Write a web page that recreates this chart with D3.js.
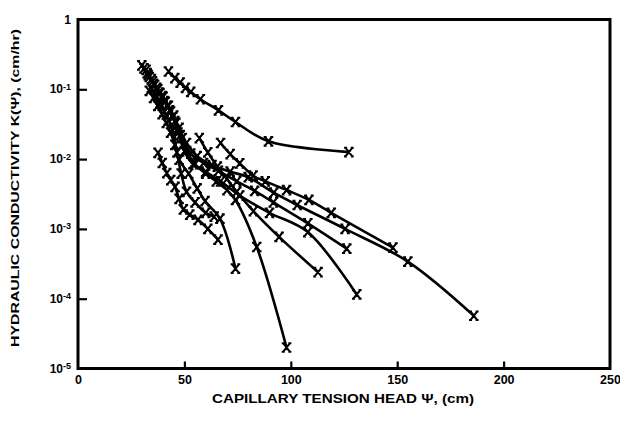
<!DOCTYPE html>
<html>
<head>
<meta charset="utf-8">
<script src="https://cdn.jsdelivr.net/npm/d3@7"></script>
<style>
  body { margin: 0; background: #fff; }
  text { font-family: "Liberation Sans", Arial, sans-serif; font-weight: bold; fill: #000; }
</style>
</head>
<body>
<svg id="chart" width="620" height="426"></svg>
<script>
// Axis ticks and titles
const psiTicks = [0, 50, 100, 150, 200, 250];
const kTicks = [1, 1e-1, 1e-2, 1e-3, 1e-4, 1e-5];
const kExponents = [0, -1, -2, -3, -4, -5];
const xTitle = "CAPILLARY TENSION HEAD \u03A8, (cm)";
const yTitle = "HYDRAULIC CONDUCTIVITY K(\u03A8), (cm/hr)";

// Measured K(psi) curves: [tension head psi (cm), conductivity K (cm/hr)]
const soilA = [[42.5,0.18],[45.5,0.145],[48,0.125],[50.5,0.105],[53,0.092],[57.5,0.072],[66,0.05],[74,0.034],[89.5,0.018],[127.3,0.0126]];
const soilB = [[30,0.22],[32.5,0.17],[35,0.13],[37.5,0.1],[40,0.078],[42.5,0.058],[45,0.042],[47.5,0.028],[51,0.017],[56,0.011],[63,0.0082],[71.5,0.0066],[80,0.0055],[92,0.0033],[103,0.0022],[125.5,0.001],[155,0.00034],[186,0.000057]];
const soilC = [[67,0.017],[71.5,0.0118],[76,0.0087],[82.3,0.0058],[88,0.0048],[98,0.0036],[108.5,0.0026],[119,0.0017],[148,0.00054]];
const soilD = [[31,0.2],[33.5,0.15],[36,0.115],[38.5,0.088],[41,0.066],[43.5,0.048],[46,0.033],[49,0.02],[53,0.012],[59,0.0088],[66,0.0068],[74.6,0.0048],[83,0.0035],[91.8,0.0024],[108,0.0012],[126.3,0.00052]];
const soilE = [[32,0.19],[34.5,0.14],[37,0.105],[39.5,0.08],[42,0.058],[44.5,0.04],[47,0.024],[50,0.013],[54,0.0085],[60,0.0066],[67,0.0048],[76,0.003],[90,0.0017],[108,0.0009],[131,0.000115]];
const soilF = [[57,0.02],[61,0.0125],[65.5,0.0078],[70,0.0052],[74.6,0.0034],[82.4,0.0018],[94.5,0.00077],[112.8,0.00024]];
const soilG = [[33,0.16],[35.5,0.12],[38,0.09],[40.5,0.068],[43,0.05],[45.5,0.035],[48,0.022],[51,0.013],[55,0.0085],[60,0.0062],[65,0.0048],[70,0.0036],[74,0.0026],[84,0.00055],[98,0.00002]];
const soilH = [[33.5,0.095],[35.5,0.075],[37.5,0.058],[39.5,0.044],[41.5,0.033],[43.5,0.024],[45.5,0.016],[47.5,0.0098],[52,0.0062],[56,0.0038],[59.7,0.0025],[66.7,0.0014],[74,0.00027]];
const soilI = [[37.6,0.0123],[39.6,0.0088],[41.7,0.0063],[43.6,0.005],[45.6,0.004],[47.5,0.0027],[49.5,0.0019],[52.5,0.0016],[56.4,0.00135],[61,0.001],[65.8,0.0007]];
const soilJ = [[34.5,0.105],[36.5,0.082],[38.5,0.063],[40.5,0.048],[42.5,0.036],[44.5,0.026],[46.5,0.0125],[48.5,0.0062],[51,0.0034],[55,0.0024],[60,0.0017],[64,0.0015]];

const curves = [soilA, soilB, soilC, soilD, soilE, soilF, soilG, soilH, soilI, soilJ];

const svg = d3.select("#chart");
const plotLeft = 78, plotRight = 610, plotTop = 19.5, plotBottom = 368.5;

const x = d3.scaleLinear().domain([0, 250]).range([plotLeft, plotRight]);
const y = d3.scaleLog().domain([1e-5, 1]).range([plotBottom, plotTop]);

// Plot frame
svg.append("rect")
  .attr("x", plotLeft).attr("y", plotTop)
  .attr("width", plotRight - plotLeft).attr("height", plotBottom - plotTop)
  .attr("fill", "none").attr("stroke", "#000").attr("stroke-width", 3);

// Bottom axis: inward ticks at interior values, numeric labels
const xAxis = svg.append("g")
  .attr("transform", `translate(0,${plotBottom})`)
  .call(d3.axisBottom(x).tickValues(psiTicks).tickSize(-7).tickPadding(7).tickFormat(d3.format("d")));
xAxis.select(".domain").remove();
xAxis.selectAll(".tick line").attr("stroke", "#000").attr("stroke-width", 2.2)
  .attr("display", d => (d === 0 || d === 250) ? "none" : null);
xAxis.selectAll(".tick text").attr("font-size", 12.5).attr("font-family", null);

// Left axis: logarithmic decades with superscript exponents
const yAxis = svg.append("g")
  .attr("transform", `translate(${plotLeft},0)`)
  .call(d3.axisLeft(y).tickValues(kTicks).tickSize(-9).tickPadding(7).tickFormat(""));
yAxis.select(".domain").remove();
yAxis.selectAll(".tick line").attr("stroke", "#000").attr("stroke-width", 2.2)
  .attr("display", (d, i) => (i === 0 || i === kTicks.length - 1) ? "none" : null);
yAxis.selectAll(".tick text").each(function(d, i) {
  const t = d3.select(this).attr("font-size", 12).attr("font-family", null).attr("dy", "0.3em");
  const e = kExponents[i];
  if (e === 0) {
    t.text("1");
  } else {
    t.append("tspan").text("10");
    t.append("tspan").attr("font-size", 9).attr("dy", "-0.4em").text("-" + Math.abs(e));
  }
});

// Axis titles
svg.append("text")
  .attr("x", (plotLeft + plotRight) / 2 - 1).attr("y", 403)
  .attr("text-anchor", "middle").attr("font-size", 12)
  .attr("textLength", 262).attr("lengthAdjust", "spacingAndGlyphs")
  .text(xTitle);

svg.append("text")
  .attr("transform", "translate(19,188) rotate(-90)")
  .attr("text-anchor", "middle").attr("font-size", 11.5)
  .attr("textLength", 318).attr("lengthAdjust", "spacingAndGlyphs")
  .text(yTitle);

// Curves
const line = d3.line()
  .x(d => x(d[0]))
  .y(d => y(d[1]))
  .curve(d3.curveCatmullRom.alpha(0.5));

const plot = svg.append("g");
plot.selectAll("path.curve")
  .data(curves)
  .join("path")
  .attr("class", "curve")
  .attr("d", line)
  .attr("fill", "none")
  .attr("stroke", "#000")
  .attr("stroke-width", 2.6)
  .attr("stroke-linejoin", "round");

// Serifed "X" markers at each measurement
const markerPath = "M-3.4,-4.3L3.4,4.3M3.4,-4.3L-3.4,4.3M-4.8,-4.3H-1.8M1.8,-4.3H4.8M-4.8,4.3H-1.8M1.8,4.3H4.8";
plot.selectAll("g.pts")
  .data(curves)
  .join("g")
  .attr("class", "pts")
  .selectAll("path")
  .data(d => d)
  .join("path")
  .attr("transform", d => `translate(${x(d[0])},${y(d[1])})`)
  .attr("d", markerPath)
  .attr("fill", "none")
  .attr("stroke", "#000")
  .attr("stroke-width", 2.1);
</script>
</body>
</html>
